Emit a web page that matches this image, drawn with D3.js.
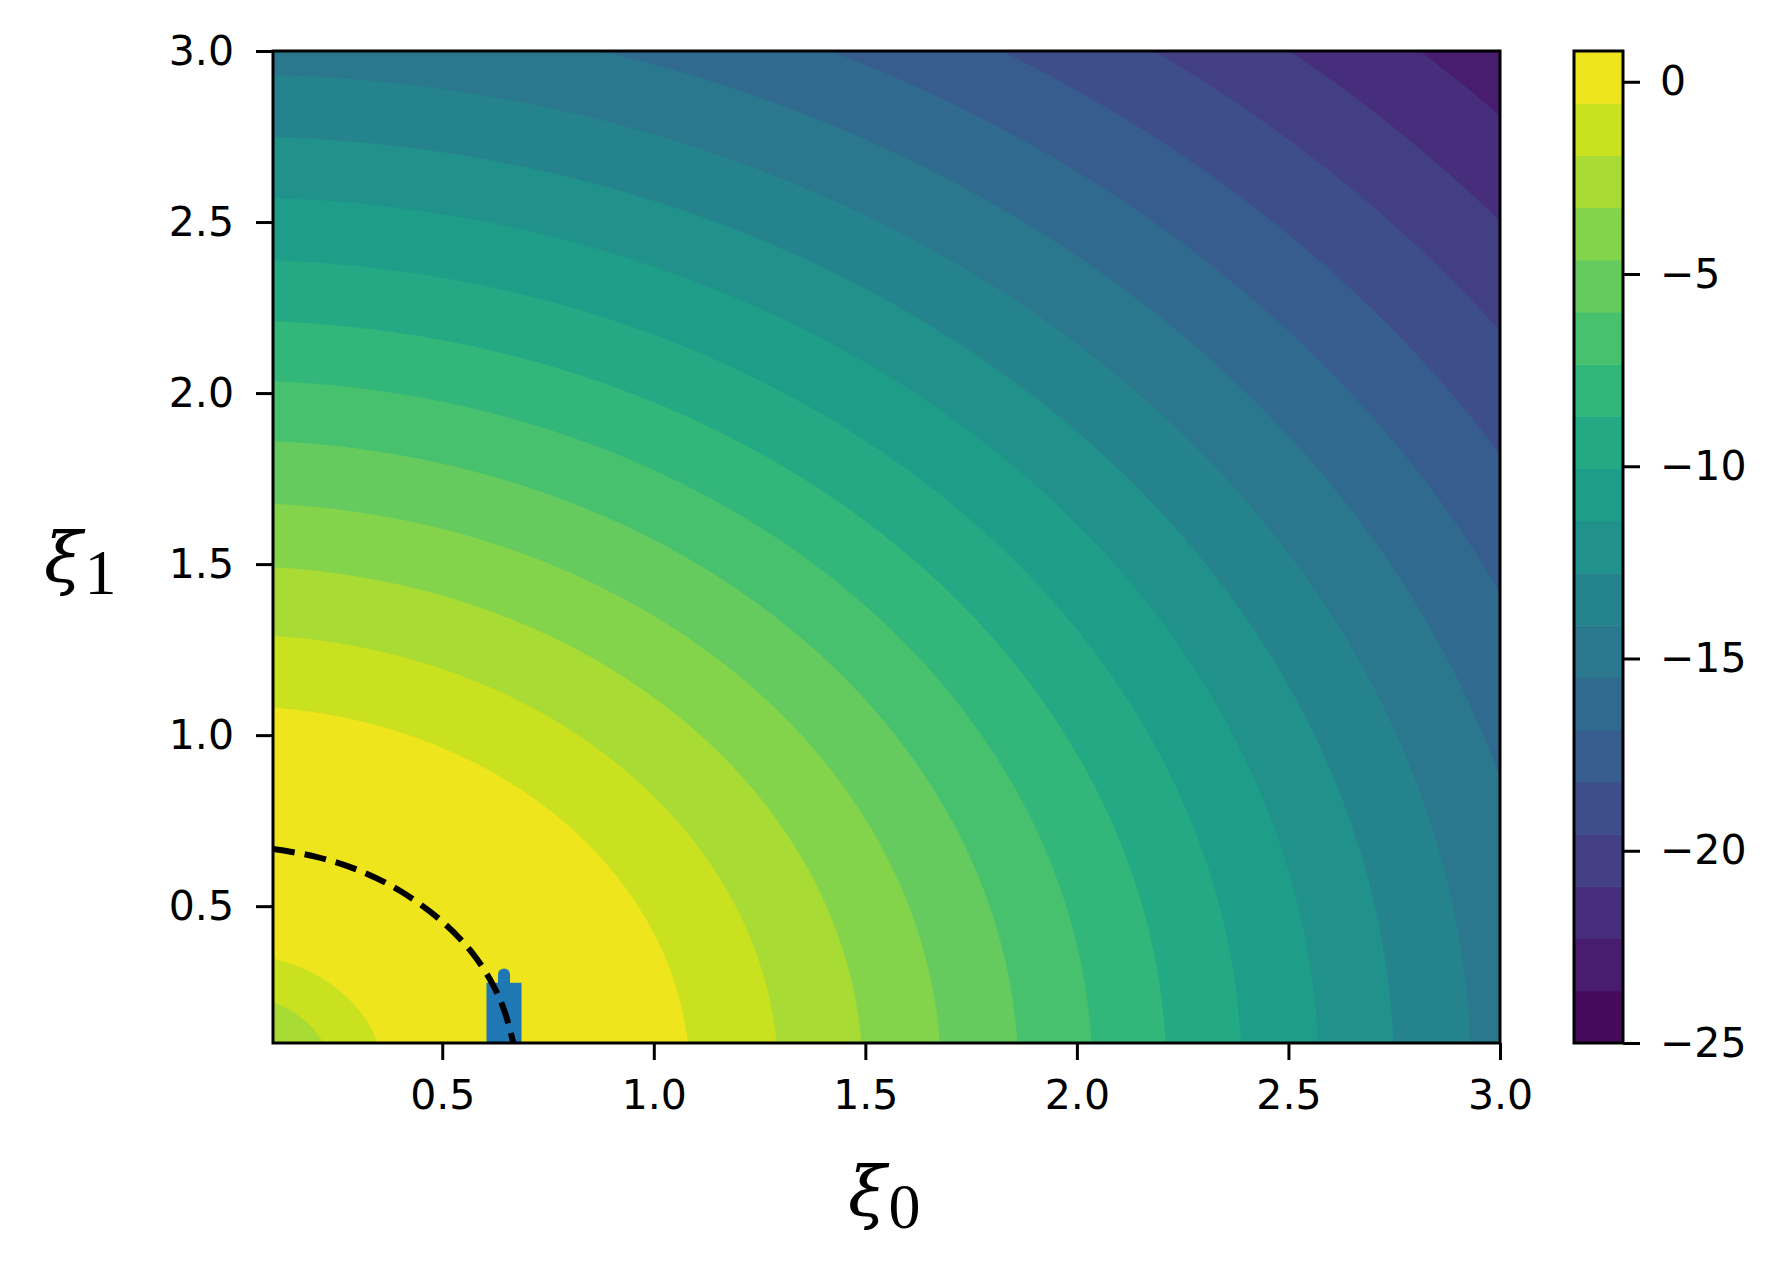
<!DOCTYPE html>
<html><head><meta charset="utf-8">
<script src="https://cdn.jsdelivr.net/npm/d3@7"></script>
<style>body{margin:0;background:#fff}</style>
</head><body>
<script>
// ---------- data ----------
const xTicks = [0.5, 1.0, 1.5, 2.0, 2.5, 3.0];
const yTicks = [0.5, 1.0, 1.5, 2.0, 2.5, 3.0];
const cbarTicks = [0, -5, -10, -15, -20, -25];
// contour levels (20 levels -> 19 filled bands)
const levels = [-25.000, -23.642, -22.284, -20.926, -19.568, -18.211, -16.853, -15.495,
  -14.137, -12.779, -11.421, -10.063, -8.705, -7.347, -5.989, -4.632, -3.274, -1.916, -0.558, 0.800];
// distance from the origin where the field falls through each level (outer side)
const outerLevelIdx = [1, 2, 3, 4, 5, 6, 7, 8, 9, 10, 11, 12, 13, 14, 15, 16, 17, 18];
const outerRadius   = [4.30, 4.111, 3.907, 3.710, 3.510, 3.318, 3.125, 2.932, 2.750, 2.572,
  2.390, 2.212, 2.037, 1.862, 1.679, 1.494, 1.294, 1.085];
// distance from the origin where the field rises through a level (inner side, near the origin)
const innerLevelIdx = [18, 17];
const innerRadius   = [0.361, 0.241];
// dashed curve
const ridgeX = [0.100, 0.200, 0.300, 0.400, 0.500, 0.570, 0.620, 0.648, 0.668];
const ridgeY = [0.667, 0.645, 0.606, 0.545, 0.455, 0.365, 0.270, 0.190, 0.100];
// blue trace
const traceX = [0.646, 0.646];
const traceY = [0.095, 0.276];
const tipX = [0.646, 0.646];
const tipY = [0.270, 0.300];

// ---------- layout ----------
const W = 1787, H = 1278;
const P = {left: 273, top: 51, right: 1500, bottom: 1043};
const CB = {left: 1574, right: 1623};

const svg = d3.select("body").append("svg").attr("width", W).attr("height", H)
  .style("font-family", "'DejaVu Sans', sans-serif");

const x = d3.scaleLinear().domain([0.1, 3.0]).range([P.left, P.right]);
const y = d3.scaleLinear().domain([0.1, 3.0]).range([P.bottom, P.top]);
const color = d3.scaleSequential(d3.interpolateViridis).domain([levels[0], levels[levels.length - 1]]);
const bandColor = k => color((levels[k] + levels[k + 1]) / 2);

svg.append("clipPath").attr("id", "plotclip").append("rect")
  .attr("x", P.left).attr("y", P.top).attr("width", P.right - P.left).attr("height", P.bottom - P.top);

const plot = svg.append("g").attr("clip-path", "url(#plotclip)");

function diskPath(R) {
  const pts = [[x(0), y(0)]];
  for (let i = 0; i <= 240; i++) {
    const t = i / 240 * Math.PI / 2;
    pts.push([x(R * Math.cos(t)), y(R * Math.sin(t))]);
  }
  return d3.line()(pts) + "Z";
}

// background = lowest band
plot.append("rect").attr("x", P.left).attr("y", P.top)
  .attr("width", P.right - P.left).attr("height", P.bottom - P.top)
  .attr("fill", bandColor(0));

const outer = outerLevelIdx.map((k, i) => ({k, R: outerRadius[i]})).sort((a, b) => b.R - a.R);
plot.selectAll("path.outer").data(outer).join("path").attr("class", "outer")
  .attr("d", d => diskPath(d.R)).attr("fill", d => bandColor(d.k));

const inner = innerLevelIdx.map((k, i) => ({k, R: innerRadius[i]})).sort((a, b) => b.R - a.R);
plot.selectAll("path.inner").data(inner).join("path").attr("class", "inner")
  .attr("d", d => diskPath(d.R)).attr("fill", d => bandColor(d.k - 1));

// blue trace
const line = d3.line().x(d => x(d[0])).y(d => y(d[1]));
plot.append("path").attr("d", line(tipX.map((v, i) => [v, tipY[i]])))
  .attr("stroke", "#1f77b4").attr("stroke-width", 12).attr("stroke-linecap", "round").attr("fill", "none");
plot.append("path").attr("d", line(traceX.map((v, i) => [v, traceY[i]])))
  .attr("stroke", "#1f77b4").attr("stroke-width", 35).attr("fill", "none");

// dashed curve
plot.append("path")
  .attr("d", d3.line().x(d => x(d[0])).y(d => y(d[1])).curve(d3.curveCatmullRom)(ridgeX.map((v, i) => [v, ridgeY[i]])))
  .attr("fill", "none").attr("stroke", "#000").attr("stroke-width", 6)
  .attr("stroke-dasharray", "22,10");

// frame
svg.append("rect").attr("x", P.left).attr("y", P.top)
  .attr("width", P.right - P.left).attr("height", P.bottom - P.top)
  .attr("fill", "none").attr("stroke", "#000").attr("stroke-width", 3);

const fmt = d3.format(".1f");
function styleAxis(g) {
  g.select(".domain").remove();
  g.selectAll(".tick line").attr("stroke", "#000").attr("stroke-width", 3);
  g.selectAll(".tick text").attr("fill", "#000").style("font-size", "41px")
    .style("font-family", "'DejaVu Sans', sans-serif");
}
svg.append("g").attr("transform", `translate(0,${P.bottom})`)
  .call(d3.axisBottom(x).tickValues(xTicks).tickFormat(fmt).tickSize(17).tickPadding(20))
  .call(styleAxis);
svg.append("g").attr("transform", `translate(${P.left},0)`)
  .call(d3.axisLeft(y).tickValues(yTicks).tickFormat(fmt).tickSize(17).tickPadding(22))
  .call(styleAxis);

// colorbar
const cy = d3.scaleLinear().domain([levels[0], levels[levels.length - 1]]).range([P.bottom, P.top]);
const bands = d3.range(levels.length - 1);
svg.append("g").selectAll("rect").data(bands).join("rect")
  .attr("x", CB.left).attr("width", CB.right - CB.left)
  .attr("y", k => cy(levels[k + 1])).attr("height", k => cy(levels[k]) - cy(levels[k + 1]) + 0.5)
  .attr("fill", k => bandColor(k));
svg.append("rect").attr("x", CB.left).attr("y", P.top)
  .attr("width", CB.right - CB.left).attr("height", P.bottom - P.top)
  .attr("fill", "none").attr("stroke", "#000").attr("stroke-width", 3);
svg.append("g").attr("transform", `translate(${CB.right},0)`)
  .call(d3.axisRight(cy).tickValues(cbarTicks).tickFormat(d3.format("d")).tickSize(17).tickPadding(20))
  .call(styleAxis);

// axis labels
function mathLabel(xp, yp, sub) {
  const t = svg.append("text").attr("x", xp).attr("y", yp).attr("fill", "#000");
  t.append("tspan").text("ξ").style("font-style", "italic").style("font-size", "70px")
    .style("font-family", "'DejaVu Serif', serif");
  t.append("tspan").text(sub).attr("dx", 2).attr("dy", 12).style("font-size", "64px")
    .style("font-family", "'Liberation Serif', serif");
}
mathLabel(44, 582, "1");
mathLabel(848, 1216, "0");
</script>
</body></html>
